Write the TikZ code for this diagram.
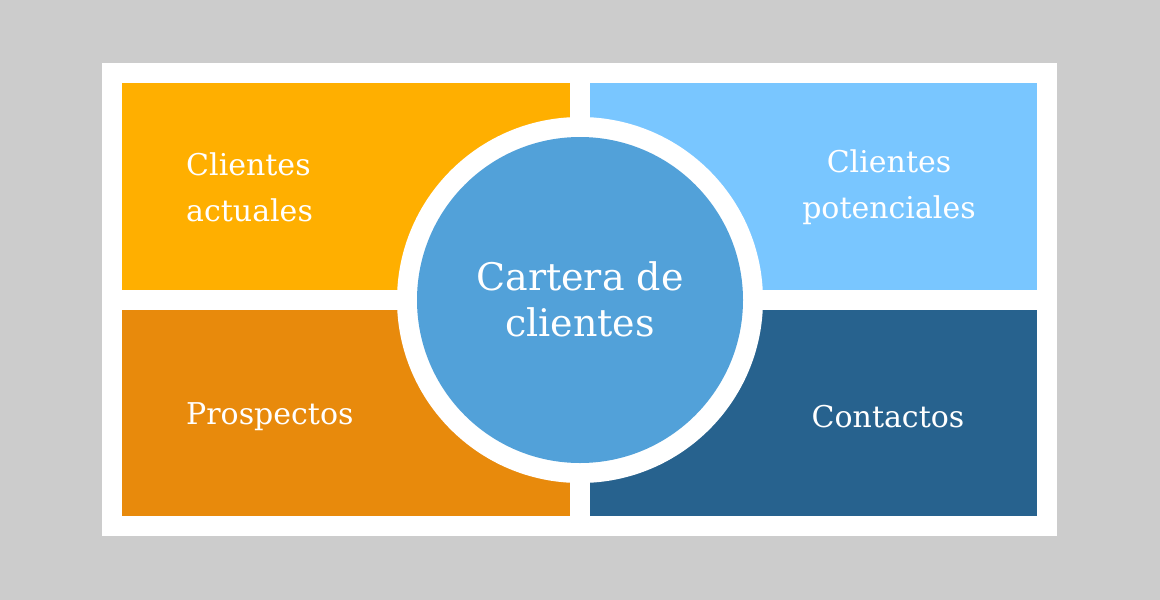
\documentclass[tikz,border=0pt]{standalone}
\usepackage{fontspec}
\setmainfont{DejaVu Serif}
\definecolor{bg}{HTML}{CCCCCC}
\definecolor{cA}{HTML}{FFAF00}
\definecolor{cB}{HTML}{79C6FF}
\definecolor{cC}{HTML}{E88A0C}
\definecolor{cD}{HTML}{27628E}
\definecolor{cE}{HTML}{52A1D9}
\begin{document}
\begin{tikzpicture}[x=1pt,y=-1pt,
  lbl/.style={text=white,font=\fontsize{30}{46}\selectfont,inner sep=0pt}]
\fill[bg] (0,0) rectangle (1160,600);
\useasboundingbox (0,0) rectangle (1160,600);
\fill[white] (102,63) rectangle (1057,536);
\fill[cA] (122,83) rectangle (570,290);
\fill[cB] (590,83) rectangle (1037,290);
\fill[cC] (122,310) rectangle (570,516);
\fill[cD] (590,310) rectangle (1037,516);
\fill[white] (580,300) circle (183);
\fill[cE] (580,300) circle (163);
\node[lbl,align=left,anchor=west] (a) at (186,187) {Clientes\\actuales};
\node[lbl,align=center] (b) at (889,187) {Clientes\\potenciales};
\node[lbl,anchor=west] (c) at (186,417) {Prospectos};
\node[lbl] (d) at (888,417) {Contactos};
\node[lbl,align=center,font=\fontsize{38}{46}\selectfont] (e) at (580,299) {Cartera de\\clientes};
\end{tikzpicture}
\end{document}
